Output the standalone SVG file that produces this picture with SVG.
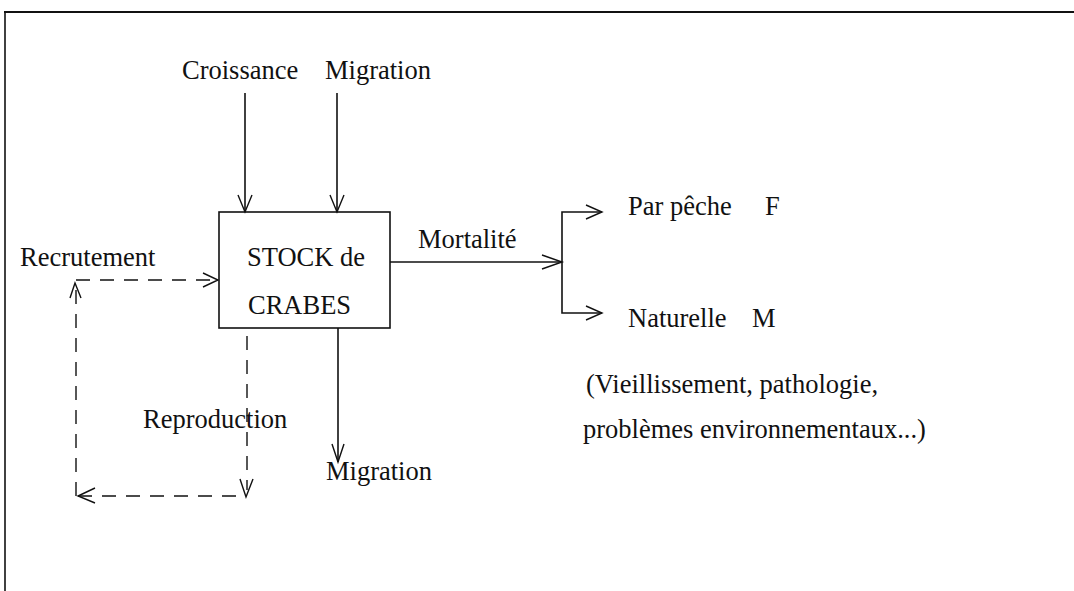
<svg xmlns="http://www.w3.org/2000/svg" width="1074" height="591" viewBox="0 0 1074 591">
<style>
text{font-family:"Liberation Serif","Times New Roman",serif;font-size:26.5px;fill:#111}
.ln{stroke:#111;stroke-width:1.6;fill:none}
.ds{stroke:#111;stroke-width:1.4;fill:none;stroke-dasharray:14 10}
.ah{stroke:#111;stroke-width:1.4;fill:none}
</style>
<g id="frame">
<line x1="4" y1="12" x2="1074" y2="12" stroke="#111" stroke-width="2"/>
<line x1="5" y1="12" x2="5" y2="591" stroke="#111" stroke-width="1.6"/>
</g>
<g id="stock">
<rect x="219" y="212" width="171" height="116" class="ln"/>
<text x="247" y="266">STOCK de</text>
<text x="248" y="314">CRABES</text>
</g>
<g id="croissance"><text x="182" y="79">Croissance</text></g>
<g id="migration-in"><text x="325" y="79">Migration</text></g>
<g id="recrutement"><text x="20" y="266">Recrutement</text></g>
<g id="mortalite"><text x="418" y="248">Mortalité</text></g>
<g id="peche"><text x="628" y="215">Par pêche</text><text x="765" y="215">F</text></g>
<g id="naturelle"><text x="628" y="327">Naturelle</text><text x="752" y="327">M</text></g>
<g id="causes">
<text x="586" y="393">(Vieillissement, pathologie,</text>
<text x="583" y="438">problèmes environnementaux...)</text>
</g>
<g id="reproduction"><text x="143" y="428">Reproduction</text></g>
<g id="migration-out"><text x="326" y="480">Migration</text></g>
<g id="connectors">
<line x1="245" y1="93" x2="245" y2="212" class="ln"/>
<polyline points="238,195 245,212 252,195" class="ah"/>
<line x1="337" y1="93" x2="337" y2="212" class="ln"/>
<polyline points="330,195 337,212 344,195" class="ah"/>
<line x1="390" y1="262" x2="562" y2="262" class="ln"/>
<polyline points="542,255 562,262 542,269" class="ah"/>
<polyline points="602,212 562,212 562,313 602,313" class="ln"/>
<polyline points="586,205 602,212 586,219" class="ah"/>
<polyline points="586,306 602,313 586,320" class="ah"/>
<line x1="338" y1="328" x2="338" y2="462" class="ln"/>
<polyline points="332,444 338,462 344,444" class="ah"/>
<line x1="76" y1="280" x2="218" y2="280" class="ds"/>
<polyline points="203,273 218,280 203,287" class="ah"/>
<polyline points="70,298 75,283 81,298" class="ah"/>
<line x1="76" y1="290" x2="76" y2="496" class="ds"/>
<line x1="78" y1="496" x2="240" y2="496" class="ds"/>
<polyline points="95,488 78,496 95,503" class="ah"/>
<line x1="247" y1="336" x2="247" y2="490" class="ds"/>
<polyline points="240,479 246,497 253,479" class="ah"/>
</g>
</svg>
